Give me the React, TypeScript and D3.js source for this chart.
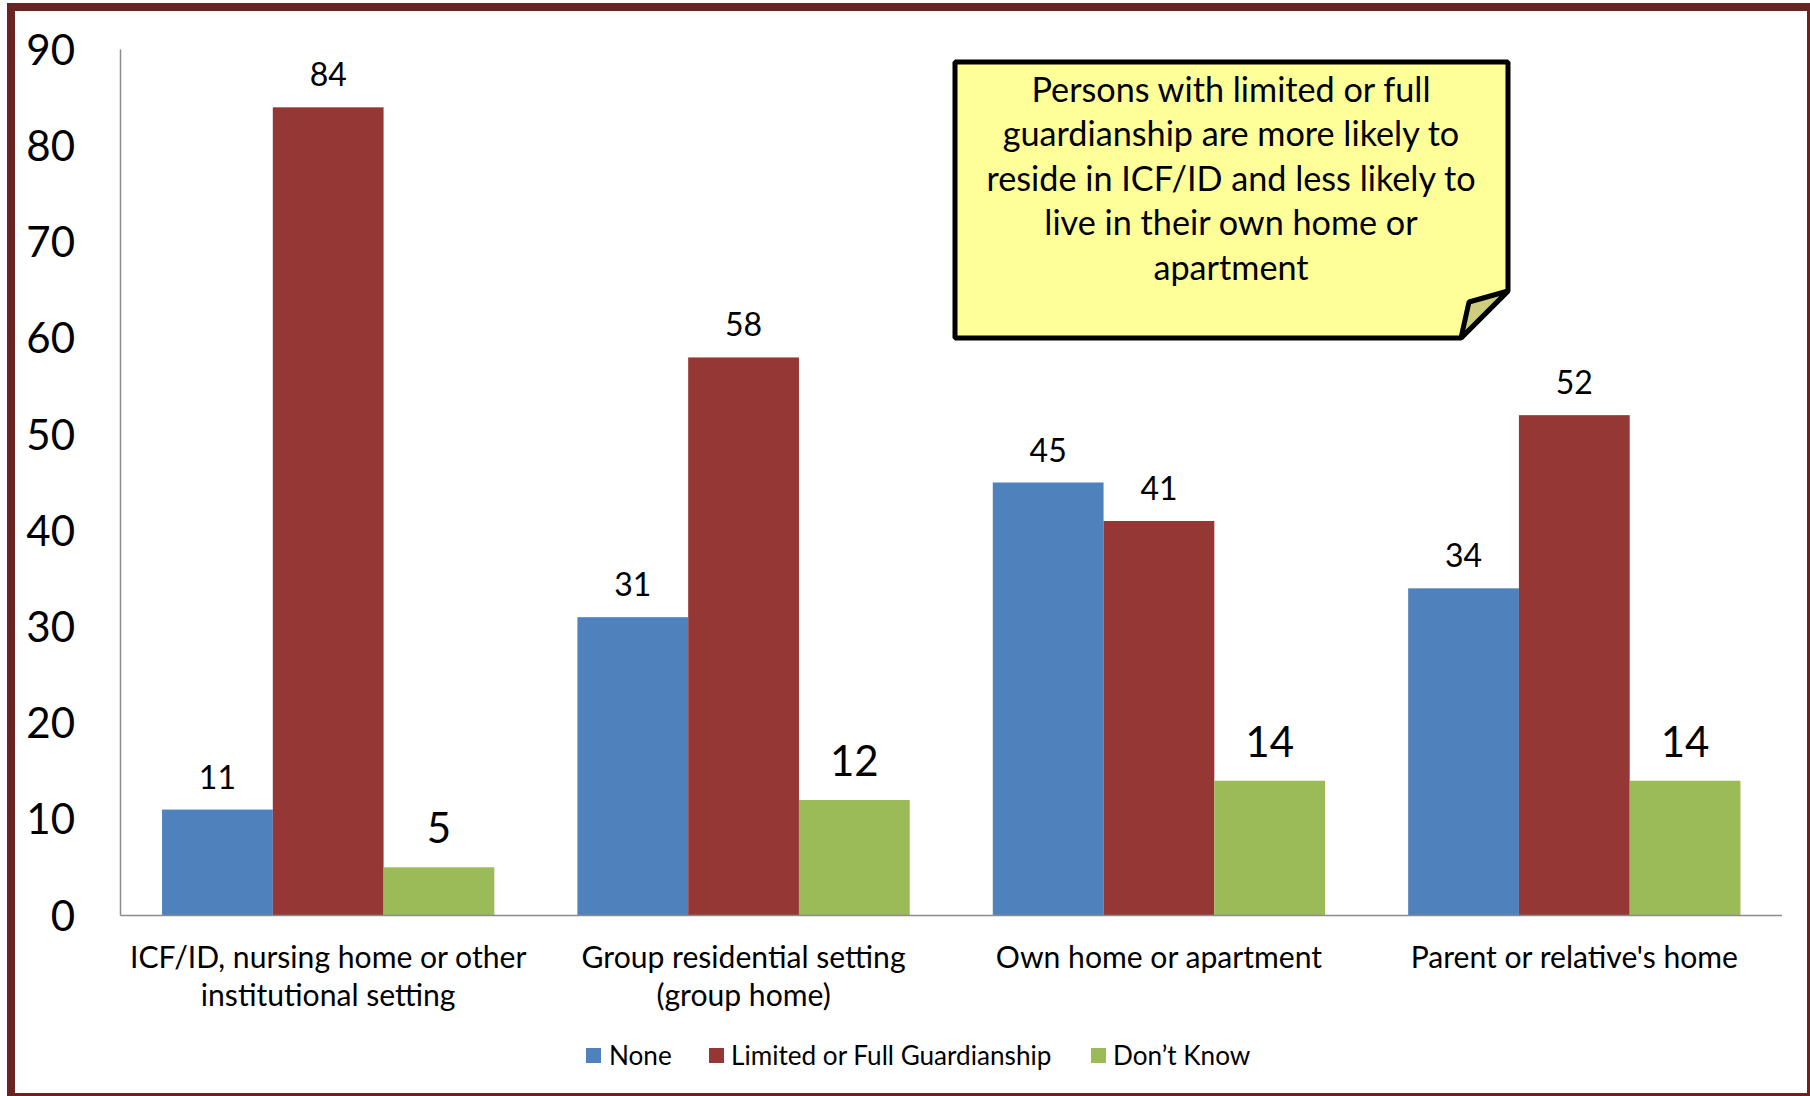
import React from "react";
import * as d3 from "d3";

const categories: string[][] = [
  ["ICF/ID, nursing home or other", "institutional setting"],
  ["Group residential setting", "(group home)"],
  ["Own home or apartment"],
  ["Parent or relative's home"],
];
const seriesNames = ["None", "Limited or Full Guardianship", "Don\u2019t Know"];
const noneValues = [11, 31, 45, 34];
const guardianValues = [84, 58, 41, 52];
const dontKnowValues = [5, 12, 14, 14];
const seriesColors = ["#4F81BD", "#953735", "#9BBB59"];
const yTicks = [0, 10, 20, 30, 40, 50, 60, 70, 80, 90];
const calloutLines = [
  "Persons with limited or full",
  "guardianship are more likely to",
  "reside in ICF/ID and less likely to",
  "live in their own home or",
  "apartment",
];

const FONT = "Lato, 'Open Sans', sans-serif";

function fitSize(text: string, target: number, weight = "normal"): number {
  if (typeof document === "undefined") return 26;
  const c = document.createElement("canvas").getContext("2d");
  if (!c) return 26;
  c.font = `${weight} 100px Lato`;
  const w = c.measureText(text).width;
  return (100 * target) / w;
}

export default function App() {
  const W = 1810;
  const H = 1096;
  const x0 = 120.5;
  const x1 = 1782;
  const y = d3.scaleLinear().domain([0, 90]).range([915.4, 49.6]);
  const xBand = d3
    .scaleBand<number>()
    .domain(d3.range(categories.length))
    .range([x0, x1])
    .paddingInner(0)
    .paddingOuter(0);
  const bw = xBand.bandwidth();
  // gap width 75%
  const barW = bw / 3.75;
  const sub = d3
    .scaleBand<number>()
    .domain([0, 1, 2])
    .range([bw * 0.1, bw * 0.9]);
  const series = [noneValues, guardianValues, dontKnowValues];

  const catSize = fitSize("Parent or relative's home", 328);
  const calloutSize = fitSize("reside in ICF/ID and less likely to", 490);
  const legendSize = fitSize("Limited or Full Guardianship", 321);

  const legendItems = [
    { sq: 586, tx: 609 },
    { sq: 709, tx: 731 },
    { sq: 1091, tx: 1113 },
  ];

  return (
    <svg
      width={W}
      height={H}
      style={{ position: "absolute", left: 0, top: 0, background: "#fff" }}
      fontFamily={FONT}
    >
      <rect x={0} y={0} width={W} height={H} fill="#ffffff" />
      <rect
        x={11}
        y={7}
        width={1800}
        height={1090}
        fill="none"
        stroke="#6A2323"
        strokeWidth={8}
      />

      {/* bars */}
      {series.map((vals, si) =>
        vals.map((v, ci) => {
          const bx = (xBand(ci) as number) + (sub(si) as number);
          return (
            <rect
              key={`b-${si}-${ci}`}
              x={bx}
              y={y(v)}
              width={barW}
              height={y(0) - y(v)}
              fill={seriesColors[si]}
            />
          );
        })
      )}

      {/* axes */}
      <line x1={x0} x2={x0} y1={y(90)} y2={y(0)} stroke="#8C8C8C" strokeWidth={1.5} />
      <line x1={x0} x2={x1} y1={y(0)} y2={y(0)} stroke="#8C8C8C" strokeWidth={1.5} />

      {/* y tick labels */}
      {yTicks.map((t) => (
        <text
          key={`t-${t}`}
          x={75}
          y={y(t)}
          dy="0.36em"
          textAnchor="end"
          fontSize={42}
          fill="#000"
        >
          {t}
        </text>
      ))}

      {/* value labels */}
      {series.map((vals, si) =>
        vals.map((v, ci) => {
          const cx = (xBand(ci) as number) + (sub(si) as number) + barW / 2;
          const big = si === 2;
          return (
            <text
              key={`v-${si}-${ci}`}
              x={cx}
              y={y(v) - (big ? 24 : 21)}
              textAnchor="middle"
              fontSize={big ? 42 : 32}
              fill="#000"
            >
              {v}
            </text>
          );
        })
      )}

      {/* category labels */}
      {categories.map((lines, ci) => {
        const cx = (xBand(ci) as number) + bw / 2;
        return lines.map((ln, li) => (
          <text
            key={`c-${ci}-${li}`}
            x={cx}
            y={957 + li * 38}
            dy="0.35em"
            textAnchor="middle"
            fontSize={catSize}
            fill="#000"
          >
            {ln}
          </text>
        ));
      })}

      {/* legend */}
      {seriesNames.map((name, i) => (
        <g key={`l-${i}`}>
          <rect x={legendItems[i].sq} y={1048} width={15} height={15} fill={seriesColors[i]} />
          <text
            x={legendItems[i].tx}
            y={1055.5}
            dy="0.35em"
            fontSize={legendSize}
            fill="#000"
          >
            {name}
          </text>
        </g>
      ))}

      {/* callout */}
      <path
        d="M955,62 L1508,62 L1508,291 L1461,338 L955,338 Z"
        fill="#FFFF99"
        stroke="#000"
        strokeWidth={5}
        strokeLinejoin="bevel"
      />
      <path
        d="M1508,291 L1469,302 L1461,338 Z"
        fill="#CDCD7B"
        stroke="#000"
        strokeWidth={5}
        strokeLinejoin="bevel"
      />
      {calloutLines.map((ln, i) => (
        <text
          key={`co-${i}`}
          x={1231}
          y={90 + i * 44.5}
          dy="0.35em"
          textAnchor="middle"
          fontSize={calloutSize}
          fill="#000"
        >
          {ln}
        </text>
      ))}
    </svg>
  );
}
